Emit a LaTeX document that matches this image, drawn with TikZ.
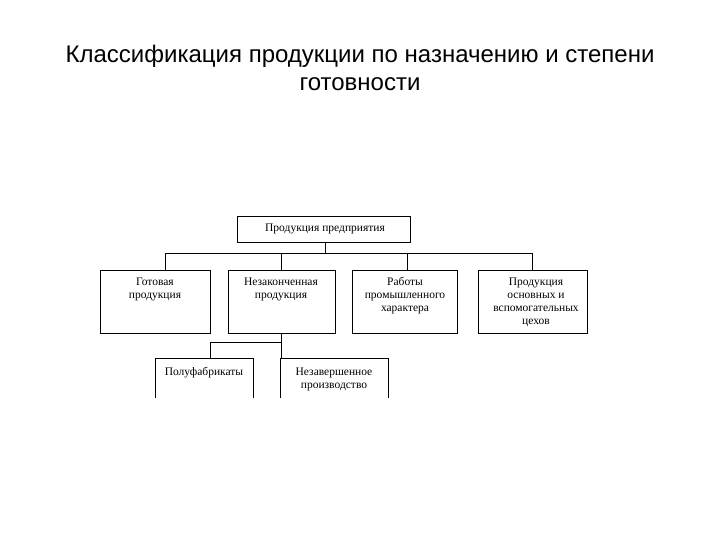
\documentclass[tikz,border=0pt]{standalone}
\usepackage{fontspec}
\setmainfont{Liberation Serif}
\newfontfamily\titlefont{Liberation Sans}
\begin{document}
\begin{tikzpicture}[x=1pt,y=-1pt,
  box/.style={draw,line width=0.6pt,inner sep=0pt},
  lbl/.style={font=\fontsize{11.5}{13}\selectfont,align=center,anchor=north},
  conn/.style={line width=0.6pt}]
\useasboundingbox (0,0) rectangle (720,540);
\node[font=\titlefont\fontsize{24}{28}\selectfont,align=center] (title) at (360,68) {Классификация продукции по назначению и степени\\готовности};
% boxes
\draw[box] (237,216) rectangle (410,242);
\node[lbl] (ttop) at (325,220) {Продукция предприятия};
\draw[box] (100,270) rectangle (210,333);
\node[lbl] (t1) at (155,274) {Готовая\\продукция};
\draw[box] (228,270) rectangle (335,333);
\node[lbl] (t2) at (281,274) {Незаконченная\\продукция};
\draw[box] (352,270) rectangle (457,333);
\node[lbl] (t3) at (405,274) {Работы\\промышленного\\характера};
\draw[box] (478,270) rectangle (587,333);
\node[lbl] (t4) at (536,274) {Продукция\\основных и\\вспомогательных\\цехов};
\draw[box] (155,398) -- (155,358) -- (253,358) -- (253,398);
\node[lbl] (t5) at (204,364) {Полуфабрикаты};
\draw[box] (280,398) -- (280,358) -- (388,358) -- (388,398);
\node[lbl] (t6) at (334,364) {Незавершенное\\производство};
% connectors
\coordinate (a) at (325,242); \coordinate (b) at (325,253);
\draw[conn] (a) -- (b);
\draw[conn] (165,270) -- (165,253) -- (532,253) -- (532,270);
\draw[conn] (281,253) -- (281,270);
\draw[conn] (407,253) -- (407,270);
\draw[conn] (281,333) -- (281,342) -- (210,342) -- (210,358);
\draw[conn] (281,342) -- (281,358);
\end{tikzpicture}
\end{document}
